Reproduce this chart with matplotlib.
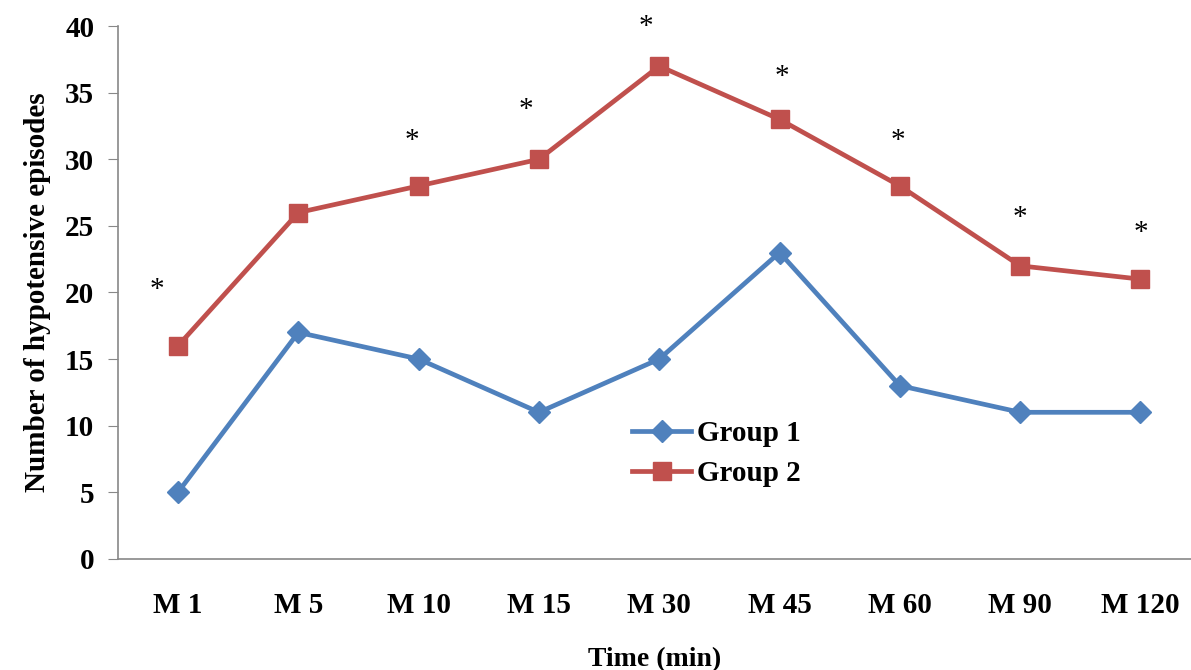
import numpy as np
import matplotlib.pyplot as plt

labels = ["M 1", "M 5", "M 10", "M 15", "M 30", "M 45", "M 60", "M 90", "M 120"]
group1 = [5, 17, 15, 11, 15, 23, 13, 11, 11]
group2 = [16, 26, 28, 30, 37, 33, 28, 22, 21]
# significance asterisks: horizontal shift from the category and height (None = absent)
star_dx = [-0.18, 0, -0.06, -0.11, -0.11, 0.02, -0.02, 0.0, 0.0]
star_y = [20.2, None, 31.4, 33.7, 39.9, 36.2, 31.4, 25.6, 24.5]

plt.rcParams['font.family'] = ['Liberation Serif', 'DejaVu Serif']
plt.rcParams['font.weight'] = 'bold'

fig = plt.figure(figsize=(11.91, 6.70), dpi=100)
ax = fig.add_axes([0.099, 0.166, 0.901, 0.795])
x = np.arange(len(labels))

ax.plot(x, group1, color='#4F81BD', lw=3.4, marker='D', ms=11.5, label='Group 1')
ax.plot(x, group2, color='#C0504D', lw=3.4, marker='s', ms=13.5, label='Group 2')

for xi, dx, yi in zip(x, star_dx, star_y):
    if yi is not None:
        ax.text(xi + dx, yi, "*", ha='center', va='center', fontsize=21, fontweight='normal')

ax.set_xlim(-0.5, 8.42)
ax.set_ylim(0, 40)
ax.set_yticks(range(0, 41, 5))
ax.set_xticks(x)
ax.set_xticklabels(labels)
ax.tick_params(axis='x', length=0, pad=24, labelsize=21)
ax.tick_params(axis='y', length=7, color='#888888', labelsize=21, pad=10)
for s in ['top', 'right']:
    ax.spines[s].set_visible(False)
for s in ['left', 'bottom']:
    ax.spines[s].set_color('#888888')
    ax.spines[s].set_linewidth(1.2)

ax.set_ylabel("Number of hypotensive episodes", fontsize=21, fontweight='bold', labelpad=10)
ax.set_xlabel("Time (min)", fontsize=20, fontweight='bold', labelpad=20)

ax.legend(loc='upper left', bbox_to_anchor=(0.455, 0.31), frameon=False, fontsize=21,
          handlelength=2.0, handletextpad=0.2, labelspacing=0.45)

plt.savefig("out.png", dpi=100)
